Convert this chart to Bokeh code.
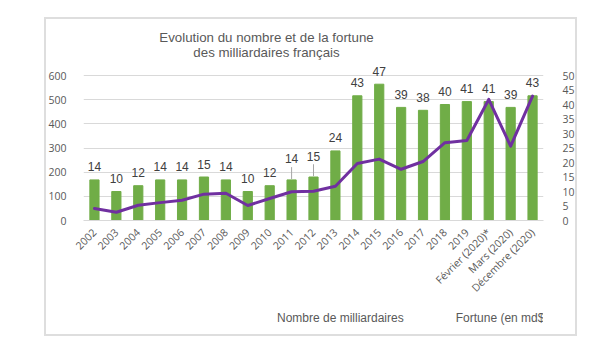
import math
from bokeh.plotting import figure
from bokeh.layouts import column
from bokeh.models import (Range1d, LinearAxis, FixedTicker, Legend, LegendItem,
                          Label, FactorRange, ColumnDataSource)
from bokeh.embed import file_html
from bokeh.resources import INLINE
from bokeh.core.properties import value

# ---------------- data ----------------
categories = ["2002", "2003", "2004", "2005", "2006", "2007", "2008", "2009", "2010",
              "2011", "2012", "2013", "2014", "2015", "2016", "2017", "2018", "2019",
              "Février (2020)*", "Mars (2020)", "Décembre (2020)"]
billionaires = [14, 10, 12, 14, 14, 15, 14, 10, 12, 14, 15, 24, 43, 47, 39, 38, 40, 41, 41, 39, 43]
fortune = [50, 34, 63, 74, 84, 109, 113, 62, 91, 119, 121, 142, 236, 254, 212, 244, 322, 331, 501, 308, 515]
left_ticks = [0, 100, 200, 300, 400, 500, 600]
right_ticks = [0, 5, 10, 15, 20, 25, 30, 35, 40, 45, 50]
title_lines = ["Evolution du nombre et de la fortune", "des milliardaires français"]
legend_labels = ["Nombre de milliardaires", "Fortune (en md$)"]
leader_categories = ["2011", "2012"]

GREEN = "#70AD47"
PURPLE = "#7030A0"
GRID = "#D9D9D9"
AXIS_TXT = "#595959"
LABEL_TXT = "#404040"
BOX = "#DEDEDE"

# ---------------- geometry (page px) ----------------
W, H = 615, 347
BOX_L, BOX_T, BOX_R, BOX_B = 45, 17, 576, 336      # outer chart box
FL, FR, FB = 83, 543, 220                           # plot frame left/right/bottom
Y_TOP_TICK = 75                                     # page y of the 600 / 50 gridline
FT = 20                                             # frame top (extended for title)
MAIN_H = 310                                        # height of the chart figure
LEG_X, LEG_TOP, LEG_H = 164, 311, 14                # legend position (page px)

px_per_unit = (FB - Y_TOP_TICK) / left_ticks[-1]
left_max = (FB - FT) / px_per_unit
right_max = right_ticks[-1] * (FB - FT) / (FB - Y_TOP_TICK)

bw, bh = BOX_R - BOX_L, BOX_B - BOX_T
box_css = ", ".join([
    f"linear-gradient({BOX},{BOX}) {BOX_L}px {BOX_T}px / {bw}px 2px no-repeat",
    f"linear-gradient({BOX},{BOX}) {BOX_L}px {BOX_B - 2}px / {bw}px 2px no-repeat",
    f"linear-gradient({BOX},{BOX}) {BOX_L - 1}px {BOX_T}px / 2px {bh}px no-repeat",
    f"linear-gradient({BOX},{BOX}) {BOX_R - 1}px {BOX_T}px / 2px {bh}px no-repeat",
    "white",
])

p = figure(width=W, height=MAIN_H,
           x_range=FactorRange(*categories, range_padding=0),
           y_range=Range1d(0, left_max), output_backend="svg", toolbar_location=None,
           min_border_left=FL, min_border_right=W - FR,
           min_border_top=FT, min_border_bottom=MAIN_H - FB)
p.extra_y_ranges = {"right": Range1d(0, right_max)}
p.outline_line_color = None
p.background_fill_color = "white"
p.border_fill_alpha = 0

# grids
p.xgrid.grid_line_color = None
p.ygrid.grid_line_color = GRID
p.ygrid.ticker = FixedTicker(ticks=left_ticks)

# left axis
ya = p.yaxis[0]
ya.ticker = FixedTicker(ticks=left_ticks)
ya.axis_line_color = None
ya.major_tick_line_color = None
ya.minor_tick_line_color = None
ya.major_label_standoff = 11
ya.major_label_text_font = "Open Sans"
ya.major_label_text_font_size = "10.5px"
ya.major_label_text_color = AXIS_TXT

# right axis
ra = LinearAxis(y_range_name="right", ticker=FixedTicker(ticks=right_ticks))
ra.axis_line_color = None
ra.major_tick_line_color = None
ra.minor_tick_line_color = None
ra.major_label_standoff = 13
ra.major_label_text_font = "Open Sans"
ra.major_label_text_font_size = "10.5px"
ra.major_label_text_color = AXIS_TXT
p.add_layout(ra, "right")

# x axis
xa = p.xaxis[0]
xa.axis_line_color = GRID
xa.major_tick_line_color = None
xa.minor_tick_line_color = None
xa.major_label_orientation = math.pi / 4
xa.major_label_standoff = 4
xa.major_label_text_font = "Open Sans"
xa.major_label_text_font_size = "10.5px"
xa.major_label_text_color = AXIS_TXT

# data sources
lift = [21 if c in leader_categories else 13 for c in categories]
src = ColumnDataSource(dict(cat=categories, n=billionaires, fort=fortune,
                            txt=[str(v) for v in billionaires], lift=[-l for l in lift]))

bars = p.vbar(x="cat", top="n", width=0.42, source=src, color=GREEN,
              y_range_name="right")
line = p.line(x="cat", y="fort", source=src, line_color=PURPLE, line_width=3,
              line_join="round", line_cap="round")

# leader lines for raised labels
lead_idx = [i for i, c in enumerate(categories) if c in leader_categories]
p.segment(x0=[categories[i] for i in lead_idx], x1=[categories[i] for i in lead_idx],
          y0=[billionaires[i] + 0.3 for i in lead_idx],
          y1=[billionaires[i] + 4.4 for i in lead_idx],
          line_color="#A6A6A6", line_width=1, y_range_name="right")

# data labels
p.text(x="cat", y="n", text="txt", source=src, y_range_name="right",
       y_offset="lift", text_align="center", text_baseline="middle",
       text_font=value("Liberation Sans"), text_font_size="12px",
       text_color=LABEL_TXT)

# title (inside the extended frame)
for i, t in enumerate(title_lines):
    p.add_layout(Label(x=266 - FL, y=FB - (37 + 15 * i), x_units="screen",
                       y_units="screen", text=t, text_align="center",
                       text_baseline="middle", text_font="Liberation Sans",
                       text_font_size="13.3px", text_color=AXIS_TXT))

# ---------------- legend strip (separate figure below the chart) ----------------
LEG_FIG_H = H - MAIN_H
lf = figure(width=W, height=LEG_FIG_H, x_range=Range1d(0, 1), y_range=Range1d(0, 1),
            x_axis_type=None, y_axis_type=None, output_backend="svg",
            toolbar_location=None, min_border=0)
lf.grid.grid_line_color = None
lf.outline_line_color = None
lf.background_fill_alpha = 0
lf.border_fill_alpha = 0
leg_bar = lf.vbar(x=[], top=[], width=0.5, color=GREEN)
leg_line = lf.line(x=[], y=[], line_color=PURPLE, line_width=3)

legend = Legend(items=[LegendItem(label=legend_labels[0], renderers=[leg_bar]),
                       LegendItem(label=legend_labels[1], renderers=[leg_line])],
                orientation="horizontal",
                location=(LEG_X, H - (LEG_TOP + LEG_H)),
                glyph_width=26, glyph_height=7, label_height=LEG_H,
                label_standoff=4, spacing=22, padding=0, margin=0,
                border_line_color=None, background_fill_alpha=0,
                label_text_font="Liberation Sans", label_text_font_size="12px",
                label_text_color=AXIS_TXT)
lf.add_layout(legend, "center")

layout = column(p, lf, spacing=0, styles={"background": box_css})

open("out.html", "w").write(file_html(layout, INLINE))
